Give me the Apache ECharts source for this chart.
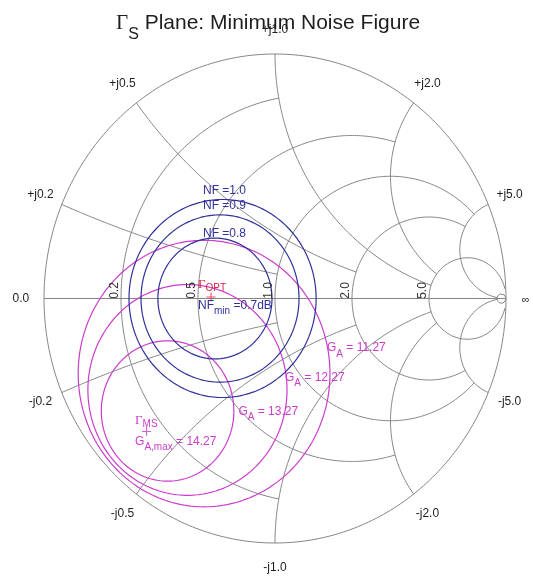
<!DOCTYPE html>
<html>
<head>
<meta charset="utf-8">
<title>Minimum Noise Figure</title>
<script src="https://cdn.jsdelivr.net/npm/echarts@6/dist/echarts.min.js"></script>
<style>
  html, body { margin: 0; padding: 0; background: #fff; }
  #chart { width: 533px; height: 586px; }
</style>
</head>
<body>
<div id="chart"></div>
<script>
// smith chart grid (normalised impedance z = r + jx)
var rGrid = [0.2, 0.5, 1.0, 2.0, 5.0, 50];
var rGridStop = [1, 2, 5, 5, 50, Infinity];   // |x| where each r circle ends
var xGrid = [0.2, 0.5, 1.0, 2.0, 5.0];
var xGridStop = [1, 2, 5, 5, 50];             // r where each x arc ends
var rTickLabels = ['0.2', '0.5', '1.0', '2.0', '5.0'];
var xTickLabels = ['j0.2', 'j0.5', 'j1.0', 'j2.0', 'j5.0'];

// noise circles in the source reflection plane (re, im, radius)
var nfLevels = [0.8, 0.9, 1.0];
var nfCenterRe = [-0.260, -0.238, -0.227];
var nfCenterIm = [0.0, 0.0, 0.0];
var nfRadius = [0.247, 0.342, 0.405];
var gammaOpt = [-0.277, 0.006];
var nfMin = 0.7;

// available gain circles
var gaLevels = [11.27, 12.27, 13.27];
var gaCenterRe = [-0.307, -0.379, -0.465];
var gaCenterIm = [-0.307, -0.374, -0.460];
var gaRadius = [0.545, 0.431, 0.287];
var gammaMS = [-0.556, -0.544];
var gaMax = 14.27;

var GRID = '#858585', BLUE = '#30309a', MAGENTA = '#cc3ccc', RED = '#dc2040', INK = '#1e1e1e';
var SANS = '"Liberation Sans", Arial, sans-serif';
var SERIF = '"Liberation Serif", "Times New Roman", serif';
var PLUS = 'path://M4.4,0H5.6V10H4.4ZM0,4.4H10V5.6H0Z';

var chart = echarts.init(document.getElementById('chart'));

function gammaOf(r, x) {
    var d = (r + 1) * (r + 1) + x * x;
    return [(r * r + x * x - 1) / d, 2 * x / d];
}
// constant resistance circle, cut at |x| = xStop
function rCurve(r, xStop) {
    var lim = Math.atan(xStop), pts = [];
    for (var i = 0; i <= 360; i++) {
        pts.push(gammaOf(r, Math.tan(-lim + 2 * lim * i / 360)));
    }
    return pts;
}
// constant reactance arc, from r = 0 up to r = rStop
function xCurve(x, rStop) {
    var tMax = rStop / (1 + rStop), pts = [];
    for (var i = 0; i <= 300; i++) {
        var t = tMax * i / 300;
        pts.push(gammaOf(t / (1 - t), x));
    }
    return pts;
}
function ring(cx, cy, rad) {
    var pts = [];
    for (var i = 0; i <= 240; i++) {
        var a = 2 * Math.PI * i / 240;
        pts.push([cx + rad * Math.cos(a), cy + rad * Math.sin(a)]);
    }
    return pts;
}

var series = [];
function addLine(pts, color, width, z) {
    series.push({
        type: 'line', data: pts, showSymbol: false, silent: true, clip: false,
        z: z, animation: false, emphasis: { disabled: true },
        lineStyle: { color: color, width: width }
    });
}
addLine(rCurve(0, Infinity), GRID, 1, 1);
addLine([[-1, 0], [1, 0]], GRID, 1, 1);
rGrid.forEach(function (r, i) { addLine(rCurve(r, rGridStop[i]), GRID, 1, 1); });
xGrid.forEach(function (x, i) {
    addLine(xCurve(x, xGridStop[i]), GRID, 1, 1);
    addLine(xCurve(-x, xGridStop[i]), GRID, 1, 1);
});
gaLevels.forEach(function (g, i) {
    addLine(ring(gaCenterRe[i], gaCenterIm[i], gaRadius[i]), MAGENTA, 1.2, 2);
});
nfLevels.forEach(function (n, i) {
    addLine(ring(nfCenterRe[i], nfCenterIm[i], nfRadius[i]), BLUE, 1.2, 3);
});
series.push({ type: 'scatter', data: [gammaOpt], symbol: PLUS, symbolSize: 9, silent: true,
    animation: false, z: 4, itemStyle: { color: RED } });
series.push({ type: 'scatter', data: [gammaMS], symbol: PLUS, symbolSize: 9, silent: true,
    animation: false, z: 4, itemStyle: { color: MAGENTA } });

chart.setOption({
    animation: false,
    grid: { left: 44, right: 27, top: 54, bottom: 43 },
    xAxis: { type: 'value', min: -1, max: 1, show: false },
    yAxis: { type: 'value', min: -1, max: 1, show: false },
    series: series
});

// ---- texts ----
function px(p) { return chart.convertToPixel({ gridIndex: 0 }, p); }
var texts = [];
function plain(x, y, s, size, fill, rot) {
    texts.push({
        type: 'text', x: x, y: y, rotation: rot || 0, z: 10, silent: true,
        style: { text: s, font: size + 'px ' + SANS, fill: fill,
            align: 'center', verticalAlign: 'middle', textAlign: 'center', textVerticalAlign: 'middle' }
    });
}
// rich label: x = left edge, y = top of block
function rich(x, y, s, tokens) {
    texts.push({
        type: 'text', x: x, y: y, z: 10, silent: true,
        style: { text: s, rich: tokens, align: 'left', verticalAlign: 'top',
            textAlign: 'left', textVerticalAlign: 'top' }
    });
}
function tok(font, fill, pad) {
    var t = { font: font, fill: fill, verticalAlign: 'top' };
    if (pad) t.padding = [pad, 0, 0, 0];
    return t;
}

// title
rich(116, 12.5, '{g|Γ}{s|S}{t| Plane: Minimum Noise Figure}', {
    g: tok('21px ' + SERIF, INK),
    s: tok('16px ' + SANS, INK, 14.5),
    t: tok('21px ' + SANS, INK)
});

// reactance labels round the rim
xGrid.forEach(function (x, i) {
    var up = gammaOf(0, x), dn = gammaOf(0, -x);
    var a = px([up[0] * 1.1, up[1] * 1.1]), b = px([dn[0] * 1.1, dn[1] * 1.1]);
    plain(a[0], a[1], '+' + xTickLabels[i], 12, INK);
    plain(b[0], b[1], '-' + xTickLabels[i], 12, INK);
});
var l0 = px([-1.1, 0]), linf = px([1.085, 0]);
plain(l0[0], l0[1], '0.0', 12, INK);
plain(linf[0], linf[1] + 1, '∞', 11, INK);

// resistance labels, turned, along the real axis
rTickLabels.forEach(function (s, i) {
    var p = px(gammaOf(rGrid[i], 0));
    plain(p[0] - 6.5, p[1] - 8, s, 12, '#333', Math.PI / 2);
});

// noise figure labels
var nfLabelDy = [-4.5, -9, -9];
var go = px(gammaOpt);
nfLevels.forEach(function (n, i) {
    var top = px([nfCenterRe[i], nfCenterIm[i] + nfRadius[i]]);
    rich(go[0] - 8, top[1] + nfLabelDy[i] - 6, '{n|NF =' + n.toFixed(1) + '}', {
        n: tok('12px ' + SANS, BLUE)
    });
});
rich(go[0] - 13, go[1] + 2.5, '{n|NF}{s|min}{n| =' + nfMin.toFixed(1) + 'dB}', {
    n: tok('12px ' + SANS, BLUE),
    s: tok('10px ' + SANS, BLUE, 7)
});
rich(go[0] - 13, go[1] - 19, '{g|Γ}{s|OPT}', {
    g: tok('13px ' + SERIF, RED),
    s: tok('10px ' + SANS, RED, 5)
});

// gain labels, set off from the right-most point of each circle
var gaLabelOff = [[-3, -25.5], [-2, -12.5], [4.5, 0.5]];
gaLevels.forEach(function (g, i) {
    var p = px([gaCenterRe[i] + gaRadius[i], gaCenterIm[i]]);
    rich(p[0] + gaLabelOff[i][0], p[1] + gaLabelOff[i][1] - 6, '{g|G}{s|A}{g| = ' + g.toFixed(2) + '}', {
        g: tok('12px ' + SANS, MAGENTA),
        s: tok('10px ' + SANS, MAGENTA, 7)
    });
});
var gm = px(gammaMS);
rich(gm[0] - 11.5, gm[1] - 17, '{g|Γ}{s|MS}', {
    g: tok('13px ' + SERIF, MAGENTA),
    s: tok('10px ' + SANS, MAGENTA, 5)
});
rich(gm[0] - 11.5, gm[1] + 4, '{g|G}{s|A,max}{g| = ' + gaMax.toFixed(2) + '}', {
    g: tok('12px ' + SANS, MAGENTA),
    s: tok('10px ' + SANS, MAGENTA, 7)
});

chart.setOption({ graphic: { elements: texts } });
</script>
</body>
</html>
